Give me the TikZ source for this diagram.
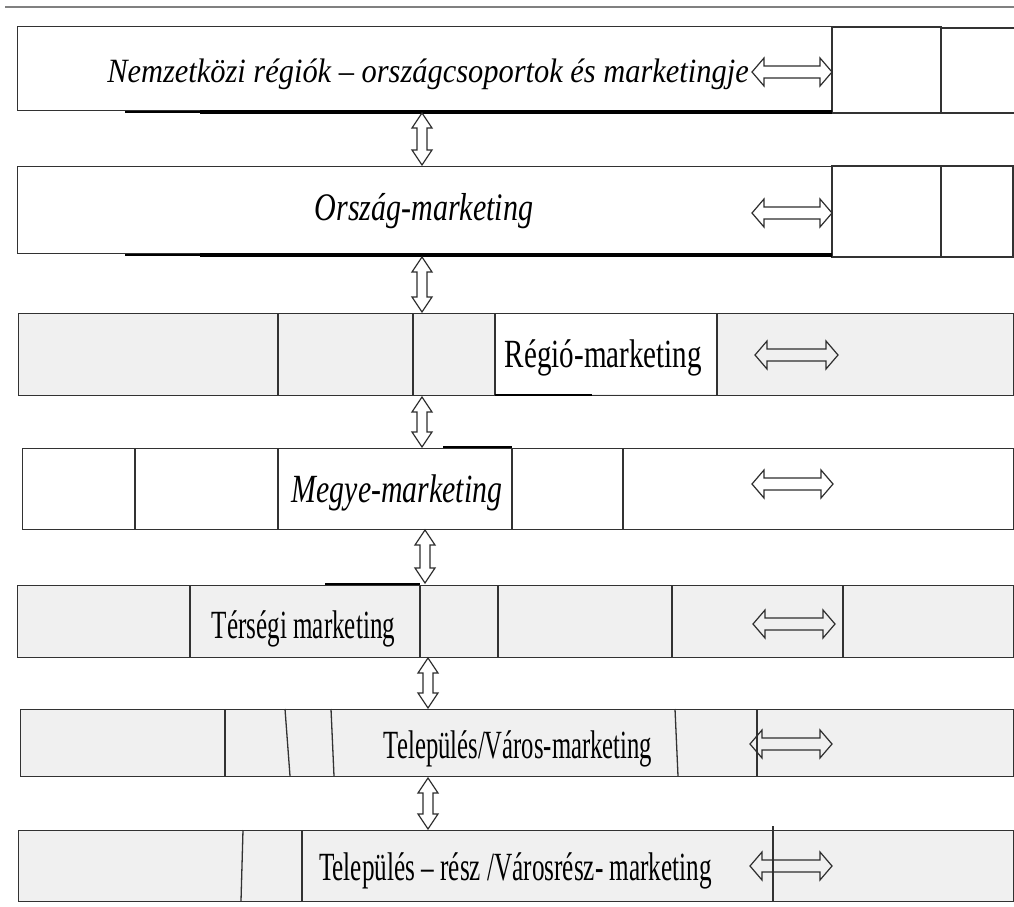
\documentclass[tikz,border=0pt]{standalone}
\usepackage{fontspec}
\usepackage{graphicx}
\setmainfont{Liberation Serif}
\definecolor{bgc}{RGB}{240,240,240}
\definecolor{linec}{RGB}{50,50,50}
\definecolor{arrc}{RGB}{45,45,45}
\tikzset{
  rowbox/.style={draw=linec, line width=1.3pt, inner sep=0pt, anchor=north west},
  rowline/.style={draw=linec, line width=1.3pt},
  shadowln/.style={draw=black, line width=3.2pt},
  dblarrow/.style={draw=arrc, line width=1.2pt, line join=miter},
  lbl/.style={inner sep=0pt, anchor=base},
  bigfont/.style={font=\fontsize{40}{40}\selectfont},
  bigital/.style={font=\fontsize{40}{40}\selectfont\itshape},
  pics/varrow/.style={code={
    \draw[dblarrow] (0,0) -- (-10,15) -- (-5,15) -- (-5,#1-15) -- (-10,#1-15) -- (0,#1)
      -- (10,#1-15) -- (5,#1-15) -- (5,15) -- (10,15) -- cycle;}},
  pics/harrow/.style={code={
    \draw[dblarrow] (0,0) -- (12,-14) -- (12,-6) -- (#1-12,-6) -- (#1-12,-14) -- (#1,0)
      -- (#1-12,14) -- (#1-12,6) -- (12,6) -- (12,14) -- cycle;}}
}
\begin{document}
\begin{tikzpicture}[x=1pt,y=-1pt]
\useasboundingbox (0,0) rectangle (1014,906);
\fill[white] (0,0) rectangle (1014,906);
% top rule
\draw[draw=gray, line width=1.5pt] (5,7) -- (1014,7);

% ---------- Row 1 ----------
\node[rowbox, fill=white, minimum width=815, minimum height=84] (r1) at (17,26) {};
\draw[rowline] (832,27) rectangle (941,113);
\draw[rowline] (1014,28) -- (941,28) -- (941,113) -- (1014,113);
\draw[draw=black, line width=2pt] (125,111.5) -- (200,111.5);
\draw[shadowln] (200,112) -- (832,112);
\node[lbl, font=\fontsize{34}{34}\selectfont\itshape] (t1) at (428,82)
  {\scalebox{0.895}[1]{Nemzetközi régiók – országcsoportok és marketingje}};
\pic at (752,72) {harrow=80};

% ---------- Row 2 ----------
\node[rowbox, fill=white, minimum width=815, minimum height=87] (r2) at (17,166) {};
\draw[rowline] (832,166) rectangle (941,257);
\draw[rowline] (941,166) rectangle (1013,257);
\draw[draw=black, line width=2pt] (125,254.5) -- (200,254.5);
\draw[shadowln] (200,255) -- (832,255);
\node[lbl, font=\fontsize{39}{39}\selectfont\itshape] (t2) at (424,220)
  {\scalebox{0.77}[1]{Ország-marketing}};
\pic at (752,213) {harrow=80};

% ---------- Row 3 ----------
\node[rowbox, fill=bgc, minimum width=995, minimum height=82] (r3) at (18,313) {};
\fill[white] (495,314) rectangle (717,394);
\draw[rowline] (278,313) -- (278,395);
\draw[rowline] (413,313) -- (413,395);
\draw[rowline] (495,313) -- (495,395);
\draw[rowline] (717,313) -- (717,395);
\draw[draw=black, line width=2.5pt] (495,395) -- (592,395);
\node[lbl, bigfont] (t3) at (603.5,367)
  {\scalebox{0.727}[1]{Régió-marketing}};
\pic at (755,355) {harrow=83};

% ---------- Row 4 ----------
\node[rowbox, fill=white, minimum width=991, minimum height=81] (r4) at (22,448) {};
\draw[rowline] (135,448) -- (135,529);
\draw[rowline] (278,448) -- (278,529);
\draw[rowline] (512,448) -- (512,529);
\draw[rowline] (623,448) -- (623,529);
\draw[draw=black, line width=2.5pt] (443,447) -- (512,447);
\node[lbl, bigital] (t4) at (397,502)
  {\scalebox{0.745}[1]{Megye-marketing}};
\pic at (752,484) {harrow=81};

% ---------- Row 5 ----------
\node[rowbox, fill=bgc, minimum width=996, minimum height=72] (r5) at (17,585) {};
\draw[rowline] (190,585) -- (190,657);
\draw[rowline] (420,585) -- (420,657);
\draw[rowline] (498,585) -- (498,657);
\draw[rowline] (672,585) -- (672,657);
\draw[rowline] (843,585) -- (843,657);
\draw[draw=black, line width=2.5pt] (325,584) -- (420,584);
\node[lbl, bigfont] (t5) at (303.5,638)
  {\scalebox{0.627}[1]{Térségi marketing}};
\pic at (753,624) {harrow=82};

% ---------- Row 6 ----------
\node[rowbox, fill=bgc, minimum width=993, minimum height=67] (r6) at (20,709) {};
\draw[rowline] (225,709) -- (225,776);
\draw[rowline] (285,709) -- (290,776);
\draw[rowline] (331,709) -- (334,776);
\draw[rowline] (675,709) -- (678,776);
\draw[rowline] (757,709) -- (757,776);
\node[lbl, bigfont] (t6) at (518,758)
  {\scalebox{0.617}[1]{Település/Város-marketing}};
\pic at (750,744) {harrow=82};

% ---------- Row 7 ----------
\node[rowbox, fill=bgc, minimum width=995, minimum height=71] (r7) at (18,830) {};
\draw[rowline] (243,830) -- (241,901);
\draw[rowline] (302,830) -- (302,901);
\draw[rowline] (773,826) -- (773,901);
\node[lbl, bigfont] (t7) at (515.5,880)
  {\scalebox{0.63}[1]{Település – rész /Városrész- marketing}};
\pic at (750,866) {harrow=82};

% ---------- vertical arrows between rows ----------
\pic at (422,113) {varrow=52};
\pic at (422,257) {varrow=55};
\pic at (422,397) {varrow=50};
\pic at (425,530) {varrow=53};
\pic at (428,658) {varrow=50};
\pic at (428,778) {varrow=51};
\end{tikzpicture}
\end{document}
